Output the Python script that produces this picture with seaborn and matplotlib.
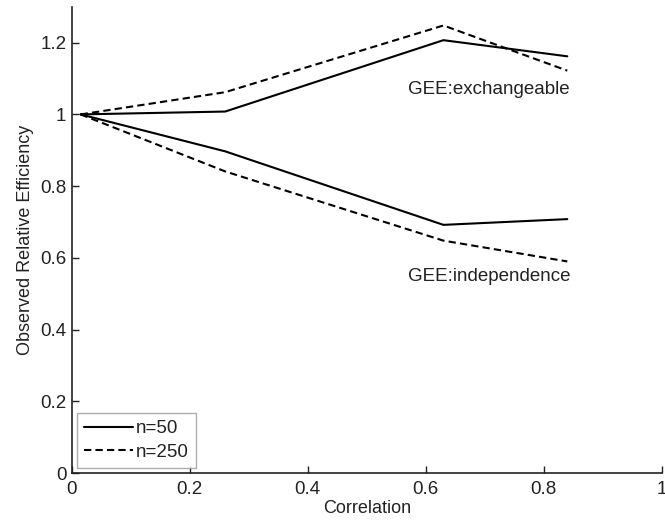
import numpy as np
import pandas as pd
import matplotlib
matplotlib.use("Agg")
import matplotlib.pyplot as plt
import seaborn as sns

correlation = [0.015, 0.26, 0.63, 0.84]
exch_n50 = [1.0, 1.008, 1.207, 1.162]
exch_n250 = [1.0, 1.062, 1.248, 1.122]
indep_n50 = [1.0, 0.897, 0.692, 0.708]
indep_n250 = [1.0, 0.841, 0.648, 0.590]

sizes = ["n=50", "n=250"]
methods = ["GEE:exchangeable", "GEE:independence"]

rows = []
for method, series in zip(methods, [(exch_n50, exch_n250), (indep_n50, indep_n250)]):
    for size, vals in zip(sizes, series):
        for c, v in zip(correlation, vals):
            rows.append({"corr": c, "eff": v, "n": size, "method": method})
df = pd.DataFrame(rows)

sns.set_style("white")
plt.rcParams["font.family"] = ["Liberation Sans", "DejaVu Sans"]
plt.rcParams["text.color"] = "#222222"
plt.rcParams["axes.labelcolor"] = "#222222"
plt.rcParams["xtick.color"] = "#222222"
plt.rcParams["ytick.color"] = "#222222"

fig = plt.figure(figsize=(6.65, 5.25), dpi=100)
ax = fig.add_axes([0.108, 0.099, 0.887, 0.888])

sns.lineplot(
    data=df, x="corr", y="eff",
    style="n", style_order=sizes,
    units="method", estimator=None,
    dashes={"n=50": "", "n=250": (3.5, 2)},
    color="black", linewidth=1.5, ax=ax
)

# labels next to the two groups of lines
ax.text(0.57, 1.069, "GEE:exchangeable", fontsize=13.5, va="center", ha="left")
ax.text(0.57, 0.547, "GEE:independence", fontsize=13.5, va="center", ha="left")

ax.set_xlim(0, 1)
ax.set_ylim(0, 1.3)
ax.set_xticks([0, 0.2, 0.4, 0.6, 0.8, 1])
ax.set_xticklabels(["0", "0.2", "0.4", "0.6", "0.8", "1"])
ax.set_yticks([0, 0.2, 0.4, 0.6, 0.8, 1, 1.2])
ax.set_yticklabels(["0", "0.2", "0.4", "0.6", "0.8", "1", "1.2"])
ax.tick_params(bottom=True, left=True, direction="in", length=5, width=1,
               labelsize=13.5, pad=4)
ax.tick_params(axis="x", pad=6)
ax.set_xlabel("Correlation", fontsize=13, labelpad=1)
ax.set_ylabel("Observed Relative Efficiency", fontsize=13, labelpad=4)

sns.despine(ax=ax)
for s in ["left", "bottom"]:
    ax.spines[s].set_color("#222222")
    ax.spines[s].set_linewidth(1.2)

handles, labels = ax.get_legend_handles_labels()
leg = ax.legend(
    handles, labels, loc="lower left", bbox_to_anchor=(0.008, 0.01),
    fontsize=13.5, frameon=True, fancybox=False, handlelength=2.6,
    handletextpad=0.15, borderpad=0.4, labelspacing=0.35, borderaxespad=0
)
leg.get_frame().set_edgecolor("#999999")
leg.get_frame().set_linewidth(1.0)

fig.savefig("out.png", dpi=100)
